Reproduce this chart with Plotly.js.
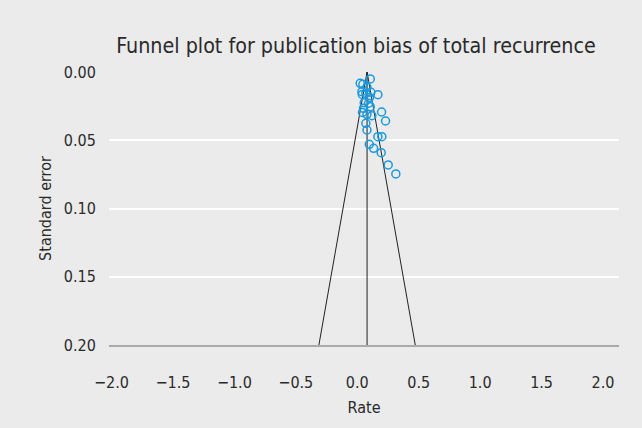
<!DOCTYPE html>
<html>
<head>
<meta charset="utf-8">
<script src="https://cdn.plot.ly/plotly-3.0.1.min.js"></script>
<style>html,body{margin:0;padding:0;background:#ebebeb;}#chart{width:642px;height:428px;}</style>
</head>
<body>
<div id="chart"></div>
<script>
// Study estimates (rate) and their standard errors
const rate = [0.106, 0.024, 0.046, 0.079, 0.038, 0.070, 0.111, 0.168, 0.041, 0.100,
              0.057, 0.092, 0.106, 0.051, 0.043, 0.079, 0.119, 0.198, 0.230, 0.070,
              0.079, 0.168, 0.200, 0.098, 0.133, 0.195, 0.252, 0.314];
const se   = [0.0051, 0.0083, 0.0090, 0.0112, 0.0144, 0.0156, 0.0149, 0.0166, 0.0164, 0.0186,
              0.0225, 0.0229, 0.0254, 0.0266, 0.0296, 0.0310, 0.0320, 0.0293, 0.0359, 0.0376,
              0.0425, 0.0474, 0.0474, 0.0530, 0.0559, 0.0591, 0.0681, 0.0747];
const pooled = [0.08];
const seRange = [0, 0.2];
const xTicks = [-2.0, -1.5, -1.0, -0.5, 0.0, 0.5, 1.0, 1.5, 2.0];
const yTicks = [0.00, 0.05, 0.10, 0.15, 0.20];

const p = pooled[0];
const lineStyle = {color: '#222', width: 1};
const traces = [
  {x: [p - 1.96 * seRange[1], p, p + 1.96 * seRange[1]], y: [seRange[1], seRange[0], seRange[1]],
   mode: 'lines', line: lineStyle, hoverinfo: 'skip', cliponaxis: false},
  {x: [p, p], y: seRange, mode: 'lines', line: lineStyle, hoverinfo: 'skip'},
  {x: rate, y: se, mode: 'markers', type: 'scatter',
   marker: {symbol: 'circle-open', size: 8, color: '#1a9ade', line: {width: 1.5, color: '#1a9ade'}}}
];
const fontFam = '"DejaVu Sans Condensed", "Open Sans", sans-serif';
const layout = {
  width: 642, height: 428,
  paper_bgcolor: '#ebebeb', plot_bgcolor: '#ebebeb',
  showlegend: false,
  margin: {l: 109, r: 23, t: 72, b: 83},
  font: {family: fontFam, color: '#2a2a2a', size: 16},
  title: {text: 'Funnel plot for publication bias of total recurrence', font: {size: 21.3, family: fontFam, color: '#2a2a2a'},
          x: 0.5545, xref: 'container', xanchor: 'center', y: 1, yref: 'paper', yanchor: 'bottom', pad: {b: 19}},
  xaxis: {range: [-2.02, 2.13], tickvals: xTicks, ticktext: xTicks.map(v => (v < 0 ? '\u2212' : '') + Math.abs(v).toFixed(1)),
          showgrid: false, zeroline: false, showline: true, linecolor: '#aaaaaa', linewidth: 2,
          ticks: 'outside', ticklen: 22, tickcolor: 'rgba(0,0,0,0)',
          tickfont: {size: 16}, title: {text: 'Rate', font: {size: 16}, standoff: 11}},
  yaxis: {range: [0.2, 0], tickvals: yTicks, ticktext: yTicks.map(v => v.toFixed(2)),
          showgrid: true, gridcolor: '#ffffff', gridwidth: 2, zeroline: false,
          ticks: 'outside', ticklen: 9, tickcolor: 'rgba(0,0,0,0)',
          tickfont: {size: 16}, title: {text: 'Standard error', font: {size: 16}, standoff: 8}}
};
Plotly.newPlot('chart', traces, layout, {staticPlot: true, displayModeBar: false});
</script>
</body>
</html>
